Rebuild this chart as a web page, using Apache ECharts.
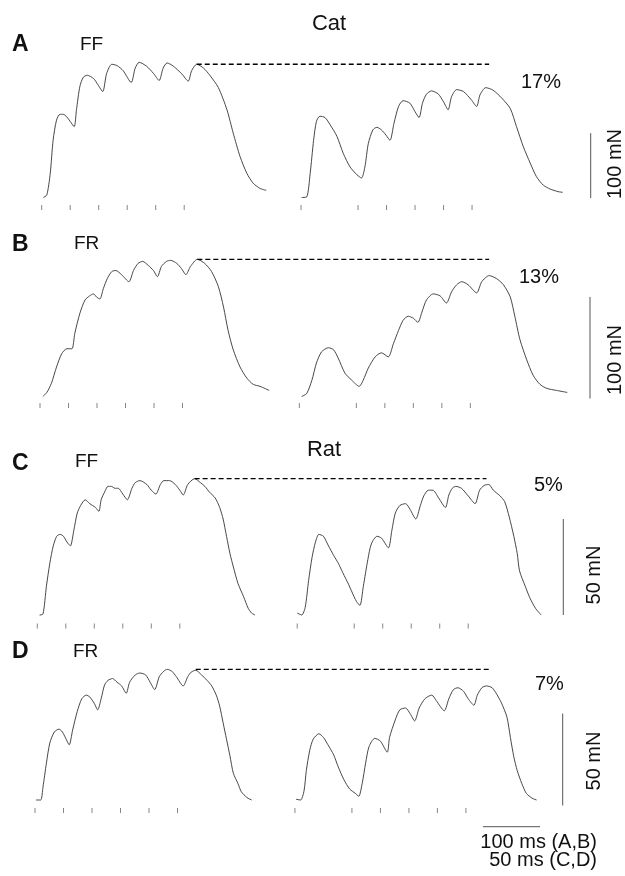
<!DOCTYPE html>
<html>
<head>
<meta charset="utf-8">
<script src="https://cdn.jsdelivr.net/npm/echarts@6/dist/echarts.min.js"></script>
<style>
  html, body { margin: 0; padding: 0; background: #fff; }
  #chart { width: 625px; height: 876px; }
</style>
</head>
<body>
<div id="chart"></div>
<script>
// force traces, [time ms, force mN]
var catFF_left = [[3,0],[9,4],[15,37],[20,88],[26,119],[32,128],[38,128],[44,124],[50,117],[57,109],
  [61,135],[67,171],[73,185],[80,188],[91,183],[99,173],[107,163],[114,191],[123,205],[132,203],
  [143,195],[157,177],[164,199],[171,208],[184,202],[196,191],[206,180],[213,199],[220,207],[231,202],
  [246,190],[257,179],[263,195],[272,205],[284,199],[295,188],[310,169],[325,135],[336,99],[348,63],
  [360,37],[371,22],[383,14],[394,11]];
var catFF_right = [[456,0],[465,1],[471,37],[477,88],[482,117],[488,125],[497,123],[506,112],[518,94],
  [529,68],[541,47],[553,35],[561,30],[567,47],[573,83],[581,104],[588,108],[596,104],[604,96],[611,88],
  [618,114],[626,140],[634,149],[646,145],[655,132],[662,123],[668,145],[675,159],[684,164],[696,159],
  [705,147],[713,135],[719,155],[728,166],[740,163],[754,150],[763,140],[769,158],[779,169],[792,165],
  [807,153],[822,137],[833,109],[845,78],[857,53],[868,32],[880,19],[892,13],[906,9],[914,8]];
var catFR_left = [[5,0],[12,4],[20,13],[29,29],[38,42],[47,47],[56,47],[61,62],[70,82],[79,95],[87,99],
  [94,101],[99,98],[105,96],[111,106],[118,116],[126,123],[133,124],[143,120],[156,113],[164,124],
  [172,131],[180,133],[190,129],[199,124],[206,118],[213,128],[222,133],[229,134],[240,131],[248,126],
  [256,120],[264,128],[276,135],[289,131],[301,123],[313,108],[322,88],[330,65],[339,46],[351,29],
  [363,18],[374,12],[386,10],[402,6]];
var catFR_right = [[459,0],[468,3],[477,16],[485,33],[494,44],[506,48],[515,46],[523,38],[535,23],
  [547,16],[560,10],[567,16],[576,28],[588,39],[599,43],[611,39],[620,52],[629,65],[637,75],[646,79],
  [655,77],[663,73],[670,83],[678,95],[690,101],[702,99],[713,92],[722,103],[731,110],[740,113],
  [751,110],[766,102],[775,113],[788,119],[801,116],[813,110],[825,98],[833,79],[842,56],[854,36],
  [865,21],[877,12],[889,8],[906,6],[925,4]];
var ratFF_left = [[2,0],[5,0.5],[8,15],[11,27],[14,36],[17,41],[20,42],[23,41],[26,38],[29,36],[32,44],
  [35,53],[38,57],[42,60],[46,58],[51,56],[54,54],[56,60],[59,64],[62,67],[65,67],[68,66],[71,66],
  [75,63],[79,60],[83,66],[86,69],[90,70],[96,68],[100,65],[104,63],[108,68],[111,70],[116,70],[121,68],
  [125,65],[128,62.5],[132,68],[138,71],[143,69],[147,67],[151,64],[156,61],[160,56],[163,50],[166,41],
  [169,32],[172,25],[176,16.5],[181,9.5],[185,3.5],[188,1],[191,0]];
var ratFF_right = [[228,1],[232,0],[235,4],[238,18],[241,30],[244,38],[247,42],[251,41],[255,36.5],
  [260,31],[264,27],[268,22],[273,16],[276,12],[280,7],[283,5],[286,15],[290,29],[293,37],[298,41],
  [302,40],[308,35],[311,44],[314,53],[318,57],[323,58],[327,55],[332,50],[336,57],[339,62],[343,65],
  [347,65],[352,61],[358,56],[361,62.5],[364,66],[367,67],[372,66],[378,62],[384,58],[388,65],[392,67.5],
  [396,68],[400,65],[406,62],[410,59],[414,51],[418,41],[421,32],[423,23],[428,15],[432,9],[437,3.5],
  [442,0]];
var ratFR_left = [[1,0],[5,0],[7,7],[10,20],[13,31],[17,37],[21,38.5],[24,37],[27,33.5],[30,30],[33,38],
  [37,48],[41,55],[45,57],[48,56],[52,52.5],[55,49],[58,55],[61,62.5],[64,65],[68,66],[72,64],[76,62],
  [80,58],[83,64],[88,68],[92,69],[97,68],[101,64],[105,60],[109,67],[113,70],[116,71],[120,70],[124,67],
  [130,62],[134,67],[137,69.5],[141,70.5],[146,68],[151,65],[155,62],[159,57],[162,51],[165,42],[168,33],
  [171,24],[174,14.5],[178,9],[181,4.5],[186,1.3],[190,0]];
var ratFR_right = [[229,0.4],[233,0],[236,5],[238,16],[241,27],[244,33],[249,36],[253,34],[257,30],
  [262,24.5],[266,18],[271,11],[276,6],[281,3.6],[284,2],[287,9],[290,20],[293,29],[298,33.5],[303,32],
  [309,26],[311,34],[316,43.5],[320,49],[325,50],[329,47],[333,43],[337,50],[342,55],[348,57],[352,54],
  [359,48.5],[363,55],[367,60],[371,61],[376,59],[380,55],[385,51.5],[388,57],[392,61],[396,62],
  [401,61],[405,57.5],[409,53],[414,45],[417,34],[420,23.5],[423,16],[427,9],[431,3.6],[436,1],[440,0]];

// stimulus ticks, ms
var catStimLeft = [0, 50, 100, 150, 200, 250];
var catStimRight = [455, 555, 605, 655, 705, 755];
var ratStimLeft = [0, 25, 50, 75, 100, 125];
var ratStimRight = [228, 278, 303, 328, 353, 378];

// peak of the regular train (dashed line), mN, and its time span, ms
var peakForce = [205, 135, 71, 71];
var peakFrom = [272, 276, 138, 141];
var peakTo = [785, 788, 394, 398];

var panelLetters = ['A', 'B', 'C', 'D'];
var unitTypes = ['FF', 'FR', 'FF', 'FR'];
var dropLabels = ['17%', '13%', '5%', '7%'];
var forceBars = [100, 100, 50, 50];      // mN
var timeBar = 50;                         // ms on rat timebase (= 100 ms cat)

// layout, px
var rows = [
  {x0: 41.7, pxMs: 0.57, base: 197.5, pxMn: 0.65, top: 20, bottom: 220, tickOff: 10, barX: 590.7, barLo: -1,
   letterY: 45, typeX: 80, typeY: 45, pctX: 521, pctY: 82, barLabY: 164, barLabX: 615.5},
  {x0: 40, pxMs: 0.57, base: 396.5, pxMn: 1.016, top: 225, bottom: 420, tickOff: 9, barX: 590, barLo: -2,
   letterY: 245, typeX: 74, typeY: 244, pctX: 519, pctY: 277, barLabY: 360, barLabX: 615.5},
  {x0: 37.3, pxMs: 1.14, base: 615, pxMn: 1.92, top: 430, bottom: 635, tickOff: 11, barX: 563.3, barLo: 0,
   letterY: 464, typeX: 75, typeY: 462, pctX: 534, pctY: 485, barLabY: 575, barLabX: 594.7},
  {x0: 35, pxMs: 1.14, base: 800, pxMn: 1.84, top: 640, bottom: 840, tickOff: 10.5, barX: 562.7, barLo: -3,
   letterY: 652, typeX: 73, typeY: 652, pctX: 535, pctY: 684, barLabY: 761, barLabX: 594.7}
];
var traces = [[catFF_left, catFF_right], [catFR_left, catFR_right], [ratFF_left, ratFF_right], [ratFR_left, ratFR_right]];
var stims = [[catStimLeft, catStimRight], [catStimLeft, catStimRight], [ratStimLeft, ratStimRight], [ratStimLeft, ratStimRight]];

var W = 625;
var FONT = '"Liberation Sans", Arial, Helvetica, sans-serif';
var ink = '#333';

var grid = [], xAxis = [], yAxis = [], series = [], graphic = [];

rows.forEach(function (r, i) {
  grid.push({left: 0, top: r.top, width: W, height: r.bottom - r.top});
  xAxis.push({type: 'value', gridIndex: i, show: false, min: -r.x0 / r.pxMs, max: (W - r.x0) / r.pxMs});
  yAxis.push({type: 'value', gridIndex: i, show: false,
    min: -(r.bottom - r.base) / r.pxMn, max: (r.base - r.top) / r.pxMn});

  traces[i].forEach(function (tr) {
    series.push({type: 'line', xAxisIndex: i, yAxisIndex: i, data: tr, symbol: 'none', smooth: 0.25,
      lineStyle: {color: ink, width: 0.9}, silent: true});
  });

  // stimulus markers
  var st = stims[i][0].concat(stims[i][1]).map(function (t) { return [t, 0]; });
  series.push({type: 'scatter', xAxisIndex: i, yAxisIndex: i, data: st, symbol: 'rect',
    symbolSize: [1, 5], symbolOffset: [0, r.tickOff], itemStyle: {color: '#666'}, silent: true});

  // peak reference
  series.push({type: 'line', xAxisIndex: i, yAxisIndex: i, symbol: 'none',
    data: [[peakFrom[i], peakForce[i]], [peakTo[i], peakForce[i]]],
    lineStyle: {color: '#000', width: 1.3, type: [5, 3]}, silent: true});

  // force scale bar
  var bx = (r.barX - r.x0) / r.pxMs;
  series.push({type: 'line', xAxisIndex: i, yAxisIndex: i, symbol: 'none', clip: false,
    data: [[bx, r.barLo], [bx, r.barLo + forceBars[i]]],
    lineStyle: {color: '#555', width: 1}, silent: true});

  graphic.push({type: 'text', style: {text: panelLetters[i], x: 12, y: r.letterY,
    font: 'bold 23px ' + FONT, fill: '#111', textVerticalAlign: 'middle'}});
  graphic.push({type: 'text', style: {text: unitTypes[i], x: r.typeX, y: r.typeY,
    font: '19px ' + FONT, fill: '#111', textVerticalAlign: 'middle'}});
  graphic.push({type: 'text', style: {text: dropLabels[i], x: r.pctX, y: r.pctY,
    font: '20px ' + FONT, fill: '#111', textVerticalAlign: 'middle'}});
  graphic.push({type: 'text', x: r.barLabX, y: r.barLabY, rotation: Math.PI / 2,
    style: {text: forceBars[i] + ' mN', x: 0, y: 0, font: '20px ' + FONT, fill: '#111',
      textAlign: 'center', textVerticalAlign: 'middle'}});
});

// time scale bar, drawn on the rat (D) timebase
var rD = rows[3];
var tb0 = (483 - rD.x0) / rD.pxMs;
var tbY = (rD.base - 826.7) / rD.pxMn;
series.push({type: 'line', xAxisIndex: 3, yAxisIndex: 3, symbol: 'none',
  data: [[tb0, tbY], [tb0 + timeBar, tbY]], lineStyle: {color: '#555', width: 1}, silent: true});

graphic.push({type: 'text', style: {text: 'Cat', x: 329, y: 24, font: '22px ' + FONT, fill: '#111',
  textAlign: 'center', textVerticalAlign: 'middle'}});
graphic.push({type: 'text', style: {text: 'Rat', x: 324, y: 450, font: '22px ' + FONT, fill: '#111',
  textAlign: 'center', textVerticalAlign: 'middle'}});
graphic.push({type: 'text', style: {text: '100 ms (A,B)', x: 597, y: 842, font: '20px ' + FONT, fill: '#111',
  textAlign: 'right', textVerticalAlign: 'middle'}});
graphic.push({type: 'text', style: {text: '50 ms (C,D)', x: 597, y: 860, font: '20px ' + FONT, fill: '#111',
  textAlign: 'right', textVerticalAlign: 'middle'}});

var chart = echarts.init(document.getElementById('chart'));
chart.setOption({
  animation: false,
  backgroundColor: '#fff',
  grid: grid,
  xAxis: xAxis,
  yAxis: yAxis,
  series: series,
  graphic: graphic
});
</script>
</body>
</html>
